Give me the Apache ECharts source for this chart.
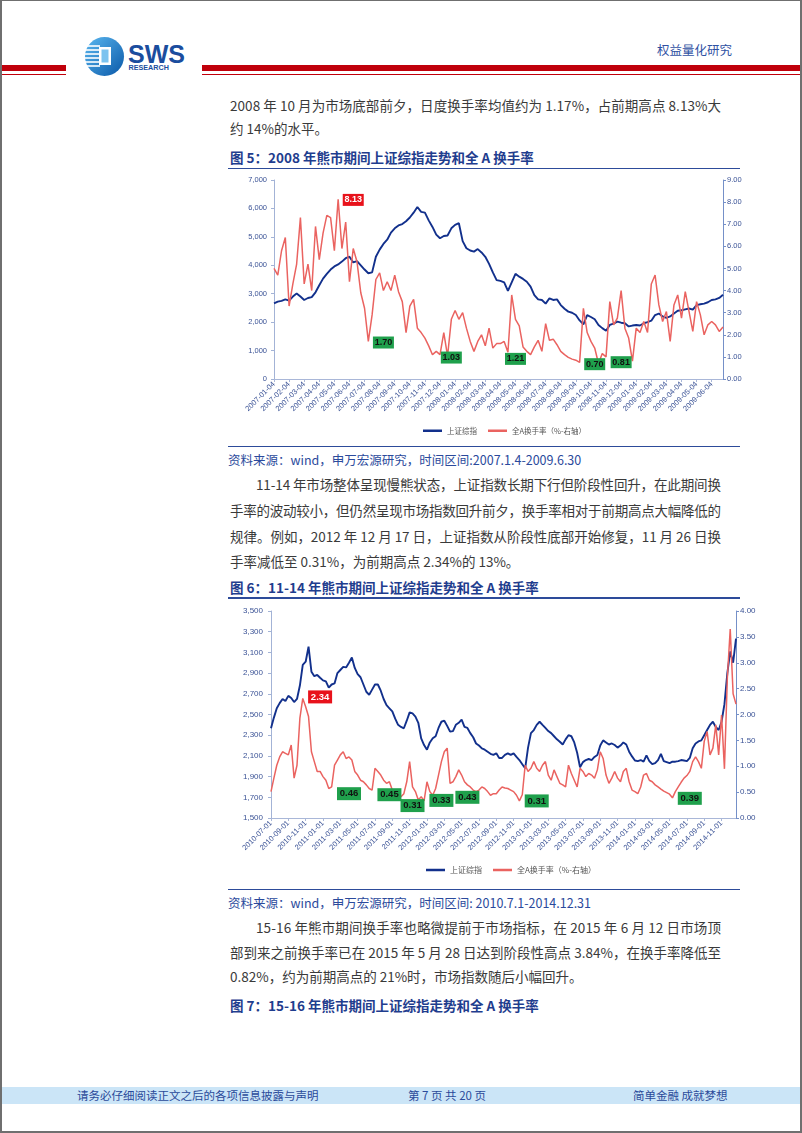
<!DOCTYPE html>
<html><head><meta charset="utf-8">
<script src="https://cdn.jsdelivr.net/npm/echarts/dist/echarts.min.js"></script>
<style>
html,body{margin:0;padding:0;background:#fff;}
#page{position:relative;width:802px;height:1133px;overflow:hidden;background:#fff;font-family:"Noto Sans CJK SC","Noto Sans",sans-serif;}
#frame{position:absolute;left:0;top:0;width:802px;height:1133px;box-sizing:border-box;border:1px solid #6f6f6f;border-width:1px 2px 2px 2px;pointer-events:none;}
.ln{position:absolute;white-space:nowrap;font-size:13.5px;line-height:20px;color:#3a3a3a;}
.src{position:absolute;white-space:nowrap;font-size:12.5px;line-height:18px;color:#2b4a9c;}
.ttl{position:absolute;white-space:nowrap;font-size:13.5px;line-height:20px;color:#1f3d8e;font-weight:bold;}
.hr{position:absolute;background:#2d4b9a;}
.bar{position:absolute;background:#c0000b;}
.ft{position:absolute;white-space:nowrap;font-size:11.5px;line-height:17px;color:#2a4a9a;top:1087px;}
.chart{position:absolute;}
</style></head>
<body>
<div id="page">
  <!-- header -->
  <div class="bar" style="left:0;top:65px;width:66px;height:5.5px"></div>
  <div class="bar" style="left:0;top:73.5px;width:66px;height:1.5px"></div>
  <div class="bar" style="left:202px;top:65px;width:600px;height:5.5px"></div>
  <div class="bar" style="left:202px;top:73.5px;width:600px;height:1.5px"></div>
  <svg style="position:absolute;left:80px;top:34px" width="112" height="46" viewBox="0 0 112 46">
    <defs><linearGradient id="lg" x1="0" y1="0" x2="1" y2="1"><stop offset="0" stop-color="#5bb8f0"/><stop offset="1" stop-color="#0a58a8"/></linearGradient></defs>
    <circle cx="24.5" cy="22.5" r="19.5" fill="url(#lg)"/>
    <g stroke="#fff" stroke-width="1.6">
      <line x1="5" y1="12" x2="20" y2="12"/><line x1="4" y1="16" x2="20" y2="16"/><line x1="4" y1="20" x2="20" y2="20"/>
      <line x1="4" y1="24" x2="20" y2="24"/><line x1="4" y1="28" x2="20" y2="28"/><line x1="5" y1="32" x2="20" y2="32"/>
    </g>
    <rect x="19" y="13" width="12" height="18" fill="#fff"/>
    <rect x="21.5" y="15.5" width="7" height="13" fill="#7cc3ef"/>
    <text x="48" y="29" font-family="Liberation Sans,Arial" font-weight="bold" font-size="25" fill="#1b4d9e">SWS</text>
    <text x="48.5" y="36" font-family="Liberation Sans,Arial" font-weight="bold" font-size="7.2" fill="#1b4d9e">RESEARCH</text>
  </svg>
  <div class="ln" style="left:657px;top:40px;font-size:12.5px;color:#2f51a3">权益量化研究</div>

  <!-- paragraph A -->
  <div class="ln fit" data-w="491" style="left:230px;top:95px"><span>2008 年 10 月为市场底部前夕，日度换手率均值约为 1.17%，占前期高点 8.13%大</span></div>
  <div class="ln" style="left:230px;top:118px"><span>约 14%的水平。</span></div>
  <div class="ttl" style="left:230px;top:147px">图 5：2008 年熊市期间上证综指走势和全 A 换手率</div>
  <div class="hr" style="left:228px;top:167.5px;width:512px;height:1.5px"></div>

  <div id="c1" class="chart" style="left:220px;top:170px;width:530px;height:275px"></div>

  <div class="hr" style="left:228px;top:446px;width:512px;height:1.2px"></div>
  <div class="src" style="left:228px;top:451px">资料来源：wind，申万宏源研究，时间区间:2007.1.4-2009.6.30</div>

  <div class="ln fit" data-w="465" style="left:256px;top:474px"><span>11-14 年市场整体呈现慢熊状态，上证指数长期下行但阶段性回升，在此期间换</span></div>
  <div class="ln fit" data-w="491" style="left:230px;top:500px"><span>手率的波动较小，但仍然呈现市场指数回升前夕，换手率相对于前期高点大幅降低的</span></div>
  <div class="ln fit" data-w="491" style="left:230px;top:526px"><span>规律。例如，2012 年 12 月 17 日，上证指数从阶段性底部开始修复，11 月 26 日换</span></div>
  <div class="ln" style="left:230px;top:551px"><span>手率减低至 0.31%，为前期高点 2.34%的 13%。</span></div>

  <div class="ttl" style="left:230px;top:577px">图 6：11-14 年熊市期间上证综指走势和全 A 换手率</div>
  <div class="hr" style="left:228px;top:597px;width:512px;height:1.5px"></div>

  <div id="c2" class="chart" style="left:220px;top:600px;width:540px;height:285px"></div>

  <div class="hr" style="left:228px;top:888.5px;width:512px;height:1.2px"></div>
  <div class="src" style="left:228px;top:894px">资料来源：wind，申万宏源研究，时间区间: 2010.7.1-2014.12.31</div>

  <div class="ln fit" data-w="465" style="left:256px;top:917px"><span>15-16 年熊市期间换手率也略微提前于市场指标，在 2015 年 6 月 12 日市场顶</span></div>
  <div class="ln fit" data-w="491" style="left:230px;top:942px"><span>部到来之前换手率已在 2015 年 5 月 28 日达到阶段性高点 3.84%，在换手率降低至</span></div>
  <div class="ln" style="left:230px;top:966px"><span>0.82%，约为前期高点的 21%时，市场指数随后小幅回升。</span></div>

  <div class="ttl" style="left:230px;top:995px">图 7：15-16 年熊市期间上证综指走势和全 A 换手率</div>

  <!-- footer -->
  <div style="position:absolute;left:1px;top:1087px;width:800px;height:17px;background:#cbe5f7"></div>
  <div class="ft" style="left:77px">请务必仔细阅读正文之后的各项信息披露与声明</div>
  <div class="ft" style="left:408px">第 7 页 共 20 页</div>
  <div class="ft" style="left:633px">简单金融 成就梦想</div>
  <div id="frame"></div>
</div>
<script>
// ---------------- Chart 1 data (2007.1.4 - 2009.6.30, ~weekly) ----------------
const tickLabels1 = ['2007-01-04','2007-02-04','2007-03-04','2007-04-04','2007-05-04','2007-06-04','2007-07-04','2007-08-04','2007-09-04','2007-10-04','2007-11-04','2007-12-04',
 '2008-01-04','2008-02-04','2008-03-04','2008-04-04','2008-05-04','2008-06-04','2008-07-04','2008-08-04','2008-09-04','2008-10-04','2008-11-04','2008-12-04',
 '2009-01-04','2009-02-04','2009-03-04','2009-04-04','2009-05-04','2009-06-04'];
const weekDays1 = ['04','11','18','25'];
const sse1 = [2660,2720,2750,2800,2760,2900,3010,2900,2780,2850,2880,3050,3300,3530,3700,3850,3960,4030,4130,4250,
 4300,4100,4150,4000,3850,3720,3750,4300,4550,4750,4900,5150,5300,5400,5450,5550,5680,5850,6050,5880,
 5850,5580,5350,5080,4950,5030,5050,5300,5420,5480,4850,4600,4520,4480,4570,4450,4300,4050,3750,3480,
 3450,3400,3100,3400,3700,3600,3520,3420,3250,2950,2800,2780,2650,2840,2780,2800,2600,2470,2370,2330,
 2250,2060,1920,2250,2180,2100,1900,1790,1700,1900,1950,2020,1980,1960,1850,1880,1900,1880,1960,2000,
 2050,2250,2300,2200,2150,2200,2300,2400,2420,2450,2480,2440,2600,2630,2650,2700,2780,2800,2850,2960];
const turn1 = [5.0,4.7,5.8,6.4,3.3,4.3,5.2,7.3,4.3,5.2,4.0,6.9,5.4,6.6,7.4,7.3,5.8,8.13,5.9,7.1,
 4.4,5.9,5.3,3.9,3.2,1.7,2.9,4.5,4.8,4.0,4.4,4.0,4.7,3.95,3.5,2.1,3.3,3.6,2.3,2.1,
 1.85,1.5,1.1,1.25,1.1,2.1,1.03,2.7,3.1,2.7,3.0,2.3,1.7,1.25,1.7,2.0,1.5,2.3,1.4,1.6,
 1.6,1.7,1.21,3.8,2.7,2.4,1.45,1.25,1.1,1.45,1.75,1.25,2.5,1.75,1.8,1.55,1.25,1.1,0.98,0.9,
 0.85,0.75,3.2,2.1,1.7,1.4,0.70,1.15,1.0,3.5,2.45,2.75,4.0,2.3,1.85,0.81,2.3,2.1,2.6,2.1,
 4.3,4.7,3.35,2.6,3.05,1.7,3.35,3.8,2.75,3.95,3.05,2.15,3.5,2.9,2.0,2.45,2.6,2.45,2.15,2.35];
const ann1 = [
 {text:'8.13', at:21, y:8.1, kind:'high'},
 {text:'1.70', at:29, y:1.65, kind:'low'},
 {text:'1.03', at:47, y:0.97, kind:'low'},
 {text:'1.21', at:64, y:0.91, kind:'low'},
 {text:'0.70', at:85, y:0.67, kind:'low'},
 {text:'0.81', at:92, y:0.76, kind:'low'}
];

// ---------------- Chart 2 data (2010.7.1 - 2014.12.31, ~3 per month) ----------------
const tickLabels2 = ['2010-07-01','2010-09-01','2010-11-01','2011-01-01','2011-03-01','2011-05-01','2011-07-01','2011-09-01','2011-11-01',
 '2012-01-01','2012-03-01','2012-05-01','2012-07-01','2012-09-01','2012-11-01','2013-01-01','2013-03-01','2013-05-01','2013-07-01',
 '2013-09-01','2013-11-01','2014-01-01','2014-03-01','2014-05-01','2014-07-01','2014-09-01','2014-11-01'];
const monthDays2 = ['01','11','21'];
const leftTicks2 = [1500,1700,1900,2100,2300,2500,2700,2900,3100,3300,3500];
const sse2 = [2367,2470,2560,2610,2650,2630,2680,2660,2620,2650,2780,2980,3010,3155,2914,2870,2882,2855,2830,2820,
 2760,2790,2800,2900,2930,2960,2955,3000,3050,2950,2890,2860,2790,2720,2690,2740,2790,2790,2730,2650,
 2590,2560,2530,2460,2400,2380,2367,2440,2520,2510,2480,2420,2270,2205,2160,2230,2270,2290,2370,2430,
 2440,2390,2334,2340,2400,2420,2450,2380,2370,2320,2280,2220,2200,2173,2160,2140,2120,2110,2125,2080,
 2080,2110,2125,2110,2125,2090,2060,2020,1980,2180,2320,2350,2400,2430,2399,2370,2340,2320,2290,2260,
 2237,2210,2260,2300,2290,2230,2130,1990,2040,2060,2070,2060,2090,2109,2200,2250,2230,2210,2220,2205,
 2180,2200,2230,2210,2141,2095,2055,2050,2060,2044,2105,2050,2020,2030,2060,2120,2050,2040,2030,2045,
 2044,2050,2060,2055,2050,2080,2173,2220,2240,2250,2300,2350,2399,2430,2380,2350,2430,2600,2900,3110,
 3000,3234];
const turn2 = [0.51,0.77,1.02,1.18,1.28,1.25,1.22,1.41,0.77,1.02,1.93,2.31,2.15,1.96,1.28,1.09,0.90,0.90,0.80,0.73,
 0.57,0.60,1.02,1.12,1.22,1.28,1.15,1.18,1.12,0.90,0.83,0.73,0.70,0.64,0.57,0.54,0.96,0.90,0.83,0.73,
 0.67,0.70,0.54,0.47,0.47,0.41,0.47,0.70,1.09,0.60,0.51,0.35,0.41,0.33,0.70,0.51,0.44,0.57,0.83,1.09,
 1.28,1.35,0.67,0.70,0.80,0.93,0.83,0.70,0.64,0.60,0.54,0.51,0.54,0.60,0.57,0.51,0.44,0.47,0.47,0.54,
 0.60,0.58,0.57,0.54,0.51,0.44,0.33,0.45,1.02,0.90,0.96,1.09,0.96,0.90,1.02,1.09,0.83,0.73,0.93,0.80,
 0.67,0.64,0.60,1.02,0.86,0.73,0.60,0.96,0.90,0.80,0.86,0.83,0.77,0.93,1.28,1.15,0.83,0.67,0.77,0.90,
 0.77,0.70,0.90,0.96,0.70,0.54,0.51,0.47,0.60,0.83,0.86,0.73,0.70,0.64,0.60,0.56,0.52,0.49,0.46,0.39,
 0.51,0.60,0.69,0.77,0.82,0.90,1.09,1.18,1.09,0.96,1.48,1.67,1.22,1.35,1.80,1.22,1.99,0.95,2.7,3.65,
 2.4,2.2];
const ann2 = [
 {text:'2.34', at:17, y:2.34, kind:'high'},
 {text:'0.46', at:27, y:0.47, kind:'low'},
 {text:'0.45', at:41, y:0.45, kind:'low'},
 {text:'0.31', at:49, y:0.24, kind:'low'},
 {text:'0.33', at:59, y:0.34, kind:'low'},
 {text:'0.43', at:68, y:0.40, kind:'low'},
 {text:'0.31', at:92, y:0.33, kind:'low'},
 {text:'0.39', at:145, y:0.38, kind:'low'}
];

// ---------------- build categories ----------------
const cats1 = [];
tickLabels1.forEach(t => { const ym = t.slice(0,8); weekDays1.forEach(d => cats1.push(ym + d)); });
const cats2 = [];
tickLabels2.forEach(t => {
  const y = +t.slice(0,4), m = +t.slice(5,7);
  [[y,m],[m===12?y+1:y, m===12?1:m+1]].forEach(([yy,mm]) => {
    const ym = yy + '-' + String(mm).padStart(2,'0') + '-';
    monthDays2.forEach(d => cats2.push(ym + d));
  });
});

const BLUE = '#12308c', RED = '#ea6360', AXC = '#3b5396';
const NUMFONT = 'Liberation Sans, Arial, sans-serif';
const CJK = 'Noto Sans CJK SC';

function markData(list, size, fs) {
  return list.map(a => ({
    coord: [a.at, a.y], name: a.text, value: a.text,
    symbol: 'rect', symbolSize: size,
    itemStyle: {color: a.kind === 'high' ? '#e8121b' : '#1fa04c'},
    label: {show: true, position: 'inside', formatter: a.text, color: a.kind === 'high' ? '#fff' : '#111',
      fontWeight: 'bold', fontSize: fs, fontFamily: NUMFONT}
  }));
}

function baseOption(cfg) {
  return {
    animation: false,
    grid: cfg.grid,
    legend: {left: cfg.legendLeft, top: cfg.legendTop, itemWidth: 19, itemHeight: 2.5, itemGap: 11, icon: 'rect',
      textStyle: {fontSize: cfg.legendFs, color: '#555', fontFamily: CJK},
      data: ['上证综指', '全A换手率（%-右轴）']},
    xAxis: {type: 'category', data: cfg.cats, boundaryGap: false,
      axisLine: {lineStyle: {color: '#a9b7d8', width: 1}},
      axisTick: {interval: cfg.tickFn, length: 3, lineStyle: {color: '#a9b7d8'}},
      axisLabel: {interval: cfg.tickFn, rotate: 45, fontSize: cfg.xFs, color: AXC, margin: 4, fontFamily: NUMFONT}},
    yAxis: [
      Object.assign({type: 'value', min: cfg.lmin, max: cfg.lmax,
        axisLine: {show: true, lineStyle: {color: '#a3b3d6'}},
        axisTick: {show: true, length: 3, lineStyle: {color: '#a3b3d6'}},
        splitLine: {show: false},
        axisLabel: {fontSize: cfg.yFs, color: AXC, margin: cfg.lMargin, fontFamily: NUMFONT,
          formatter: v => Math.round(v).toLocaleString('en-US')}}, cfg.leftExtra),
      {type: 'value', min: cfg.rmin, max: cfg.rmax, interval: cfg.rint, position: 'right',
        axisLine: {show: true, lineStyle: {color: '#7590c8'}},
        axisTick: {show: true, length: 3, lineStyle: {color: '#7590c8'}},
        splitLine: {show: false},
        axisLabel: {fontSize: cfg.yFs, color: AXC, margin: 4, fontFamily: NUMFONT, formatter: v => v.toFixed(2)}}
    ],
    series: [
      {name: '上证综指', type: 'line', data: cfg.sse, showSymbol: false, symbol: 'none',
        lineStyle: {color: BLUE, width: 1.9}, itemStyle: {color: BLUE}},
      {name: '全A换手率（%-右轴）', type: 'line', yAxisIndex: 1, data: cfg.turn, showSymbol: false, symbol: 'none',
        lineStyle: {color: RED, width: 1.5}, itemStyle: {color: RED},
        markPoint: {silent: true, data: markData(cfg.ann, cfg.boxSize, cfg.boxFs)}}
    ]
  };
}

const chart1 = echarts.init(document.getElementById('c1'));
chart1.setOption(baseOption({
  grid: {left: 54, right: 27, top: 10, bottom: 66},
  legendLeft: 198, legendTop: 252, legendFs: 7.5,
  cats: cats1, tickFn: (i, v) => tickLabels1.indexOf(v) >= 0, xFs: 7.5, yFs: 7.5,
  lmin: 0, lmax: 7000, lMargin: 7, leftExtra: {interval: 1000},
  rmin: 0, rmax: 9, rint: 1,
  sse: sse1, turn: turn1, ann: ann1, boxSize: [21, 12], boxFs: 9
}));

const chart2 = echarts.init(document.getElementById('c2'));
chart2.setOption(baseOption({
  grid: {left: 51, right: 24, top: 11, bottom: 67},
  legendLeft: 201, legendTop: 261, legendFs: 8,
  cats: cats2, tickFn: (i, v) => tickLabels2.indexOf(v) >= 0, xFs: 7.5, yFs: 8,
  lmin: 1500, lmax: 3500, lMargin: 8,
  leftExtra: {axisLabel: {fontSize: 8, color: AXC, margin: 8, fontFamily: NUMFONT, customValues: leftTicks2,
      formatter: v => Math.round(v).toLocaleString('en-US')},
    axisTick: {show: true, length: 3, customValues: leftTicks2, lineStyle: {color: '#a3b3d6'}}},
  rmin: 0, rmax: 4, rint: 0.5,
  sse: sse2, turn: turn2, ann: ann2, boxSize: [24, 13], boxFs: 9.5
}));

// justify single text lines to their measured width
document.querySelectorAll('.fit').forEach(el => {
  const span = el.querySelector('span');
  const w = +el.dataset.w;
  const nat = span.getBoundingClientRect().width;
  const n = span.textContent.length;
  if (n > 1) span.style.letterSpacing = ((w - nat) / (n - 1)) + 'px';
});
</script>
</body></html>
